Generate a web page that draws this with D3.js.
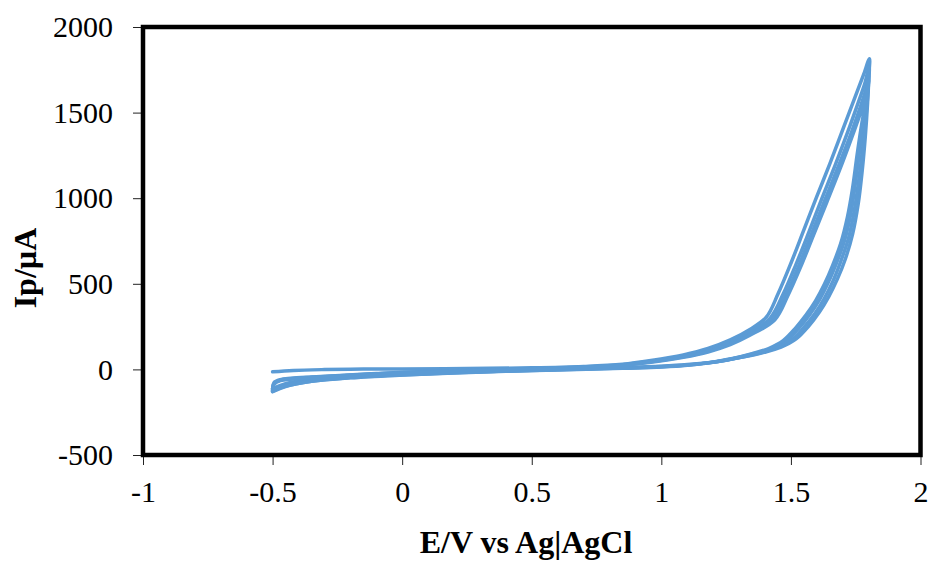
<!DOCTYPE html>
<html>
<head>
<meta charset="utf-8">
<script src="https://cdn.jsdelivr.net/npm/d3@7"></script>
<style>
  body { margin: 0; background: #fff; }
  .tick text { font-family: "Liberation Serif", "Times New Roman", serif; font-size: 30px; fill: #000; }
  .axis-title { font-family: "Liberation Serif", "Times New Roman", serif; font-size: 32px; font-weight: bold; fill: #000; }
</style>
</head>
<body>
<div id="chart"></div>
<script>
// tick values
const xTicks = [-1, -0.5, 0, 0.5, 1, 1.5, 2];
const yTicks = [-500, 0, 500, 1000, 1500, 2000];

// CV cycles, [E (V), I (uA)], forward scan then reverse scan
const cycle1 = [
  [-0.5, -14], [-0.42, -6], [-0.3, -1], [-0.15, 2], [0, 3], [0.25, 5], [0.5, 9], [0.7, 17],
  [0.85, 30], [0.96, 52], [1.085, 85], [1.18, 122], [1.266, 172], [1.34, 232], [1.405, 305],
  [1.45, 440], [1.5, 620], [1.55, 815], [1.6, 1010], [1.65, 1200], [1.7, 1400], [1.75, 1600],
  [1.78, 1720], [1.803, 1815],
  [1.801, 1720], [1.796, 1560], [1.787, 1360], [1.775, 1160], [1.76, 970], [1.738, 790],
  [1.71, 645], [1.68, 530], [1.646, 425], [1.61, 335], [1.568, 252], [1.52, 178], [1.462, 130],
  [1.398, 100], [1.3, 68], [1.22, 46], [1.1, 28], [1.0, 19], [0.85, 11], [0.6, 1], [0.4, -7],
  [0.2, -16], [0, -27], [-0.2, -41], [-0.35, -58], [-0.45, -84], [-0.5, -112]
];

const cycle2 = [
  [-0.5, -112], [-0.495, -78], [-0.47, -60], [-0.43, -52], [-0.35, -44], [-0.24, -35],
  [-0.1, -24], [0, -17], [0.25, -6], [0.5, 4], [0.7, 14], [0.85, 27], [0.96, 47], [1.085, 78],
  [1.18, 112], [1.266, 158], [1.34, 215], [1.42, 300], [1.47, 440], [1.52, 615], [1.57, 805],
  [1.62, 1000], [1.67, 1190], [1.72, 1390], [1.76, 1560], [1.785, 1670], [1.802, 1770],
  [1.799, 1660], [1.791, 1500], [1.779, 1320], [1.763, 1120], [1.746, 940], [1.722, 765],
  [1.692, 630], [1.662, 515], [1.628, 412], [1.592, 325], [1.55, 245], [1.502, 172],
  [1.444, 125], [1.38, 96], [1.29, 66], [1.21, 44], [1.1, 26], [1.0, 17], [0.85, 9],
  [0.6, -1], [0.4, -9], [0.2, -18], [0, -30], [-0.2, -45], [-0.35, -65], [-0.45, -93], [-0.5, -122]
];

const cycle3 = [
  [-0.5, -122], [-0.495, -85], [-0.47, -63], [-0.43, -55], [-0.35, -46], [-0.24, -37],
  [-0.1, -26], [0, -19], [0.25, -8], [0.5, 2], [0.7, 12], [0.85, 25], [0.96, 44], [1.085, 74],
  [1.18, 106], [1.266, 150], [1.34, 205], [1.43, 295], [1.48, 435], [1.53, 605], [1.58, 795],
  [1.63, 985], [1.68, 1175], [1.73, 1370], [1.765, 1520], [1.79, 1640], [1.801, 1720],
  [1.795, 1620], [1.781, 1470], [1.766, 1290], [1.749, 1090], [1.731, 910], [1.706, 748],
  [1.675, 618], [1.644, 507], [1.61, 406], [1.573, 321], [1.532, 243], [1.485, 170],
  [1.428, 124], [1.364, 94], [1.28, 64], [1.2, 42], [1.1, 25], [1.0, 15], [0.85, 8],
  [0.6, -2], [0.4, -10], [0.2, -20], [0, -32], [-0.2, -48], [-0.35, -69], [-0.45, -98], [-0.5, -128]
];

const cycle4 = [
  [-0.5, -128], [-0.495, -88], [-0.47, -66], [-0.43, -57], [-0.35, -48], [-0.24, -38],
  [-0.1, -27], [0, -20], [0.25, -9], [0.5, 1], [0.7, 11], [0.85, 24], [0.96, 42], [1.085, 71],
  [1.18, 102], [1.266, 145], [1.34, 198], [1.438, 290], [1.488, 430], [1.538, 600], [1.588, 788],
  [1.638, 975], [1.688, 1165], [1.736, 1360], [1.77, 1505], [1.792, 1620], [1.8, 1690],
  [1.792, 1590], [1.774, 1440], [1.756, 1260], [1.738, 1060], [1.718, 890], [1.692, 735],
  [1.661, 608], [1.63, 500], [1.595, 400], [1.558, 317], [1.517, 240], [1.47, 168],
  [1.414, 122], [1.35, 92], [1.27, 62], [1.19, 41], [1.1, 24], [1.0, 14], [0.85, 7],
  [0.6, -3], [0.4, -11], [0.2, -21], [0, -33], [-0.2, -49], [-0.35, -70], [-0.45, -100], [-0.5, -130]
];

const cycles = [cycle1, cycle2, cycle3, cycle4];

const width = 930;
const height = 561;
const margin = { top: 27, right: 9.5, bottom: 106, left: 143 };
const innerW = width - margin.left - margin.right;
const innerH = height - margin.top - margin.bottom;

const svg = d3.select('#chart')
  .append('svg')
  .attr('width', width)
  .attr('height', height)
  .style('background', '#fff');

const g = svg.append('g')
  .attr('transform', `translate(${margin.left}, ${margin.top})`);

const x = d3.scaleLinear().domain([-1, 2]).range([0, innerW]);
const y = d3.scaleLinear().domain([-500, 2000]).range([innerH, 0]);

// curves
const line = d3.line()
  .x(d => x(d[0]))
  .y(d => y(d[1]))
  .curve(d3.curveCatmullRom.alpha(0.5));

g.append('g')
  .selectAll('path')
  .data(cycles)
  .enter()
  .append('path')
  .attr('d', line)
  .attr('fill', 'none')
  .attr('stroke', '#5b9bd5')
  .attr('stroke-width', 3.5)
  .attr('stroke-linejoin', 'round')
  .attr('stroke-linecap', 'round');

// axes
const xAxis = g.append('g')
  .attr('transform', `translate(0, ${innerH})`)
  .call(d3.axisBottom(x).tickValues(xTicks).tickFormat(d => String(d)).tickSize(10).tickSizeOuter(0).tickPadding(16));

const yAxis = g.append('g')
  .call(d3.axisLeft(y).tickValues(yTicks).tickFormat(d => String(d)).tickSize(10).tickSizeOuter(0).tickPadding(20));

[xAxis, yAxis].forEach(a => {
  a.select('.domain').remove();
  a.selectAll('.tick line').attr('stroke', '#222').attr('stroke-width', 1);
});

// frame
g.append('rect')
  .attr('x', 0)
  .attr('y', 0)
  .attr('width', innerW)
  .attr('height', innerH)
  .attr('fill', 'none')
  .attr('stroke', '#000')
  .attr('stroke-width', 4.5);

// titles
svg.append('text')
  .attr('class', 'axis-title')
  .attr('x', 526)
  .attr('y', 553)
  .attr('text-anchor', 'middle')
  .text('E/V vs Ag|AgCl');

svg.append('text')
  .attr('class', 'axis-title')
  .attr('transform', 'translate(36, 268) rotate(-90)')
  .attr('text-anchor', 'middle')
  .text('Ip/µA');
</script>
</body>
</html>
